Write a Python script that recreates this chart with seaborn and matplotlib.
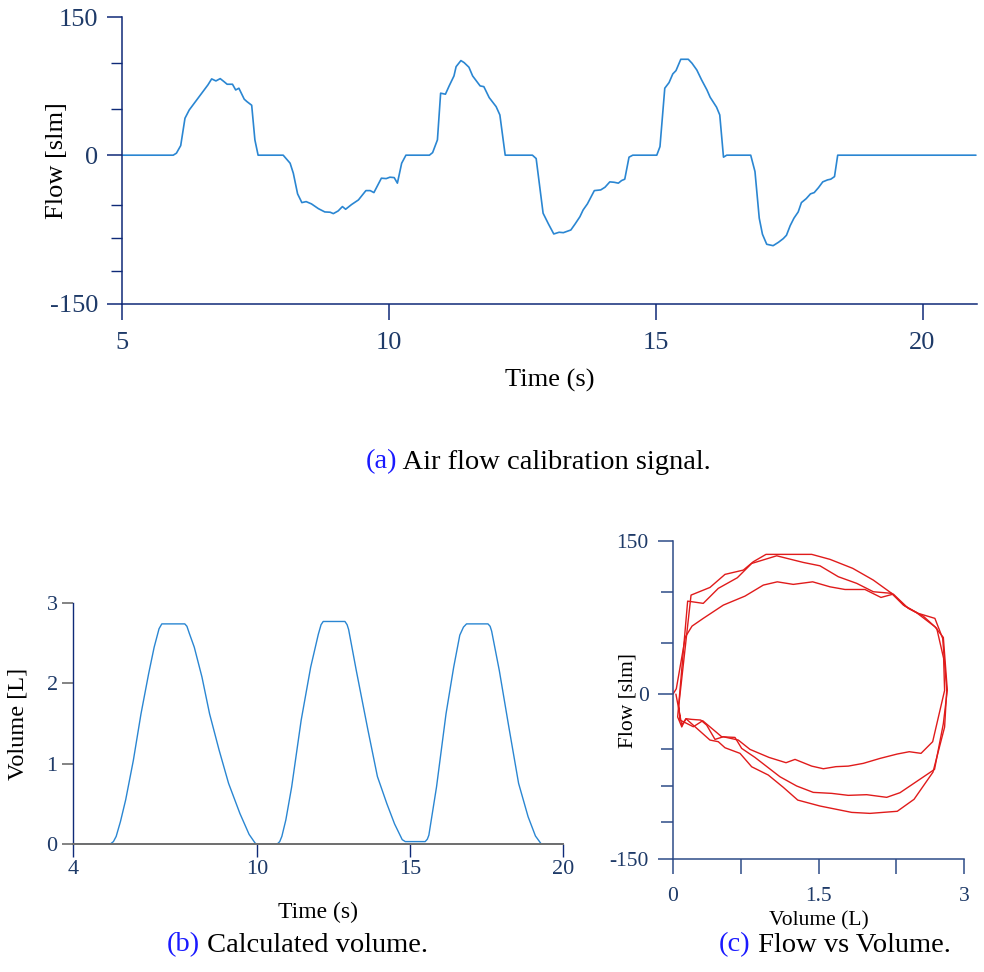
import numpy as np
import pandas as pd
import matplotlib
matplotlib.use("Agg")
import matplotlib.pyplot as plt
import seaborn as sns

# ---------------- (a) air-flow calibration signal ----------------
flow_time = [5.00, 5.96, 6.02, 6.10, 6.18, 6.26, 6.40, 6.54, 6.61, 6.68,
             6.76, 6.84, 6.91, 6.97, 7.07, 7.13, 7.19, 7.29, 7.34, 7.43,
             7.49, 7.55, 8.02, 8.15, 8.21, 8.29, 8.37, 8.45, 8.55, 8.68,
             8.80, 8.90, 8.96, 9.05, 9.13, 9.19, 9.30, 9.43, 9.57, 9.65,
             9.72, 9.86, 9.95, 10.02, 10.10, 10.16, 10.24, 10.32, 10.76, 10.82,
             10.91, 10.97, 11.06, 11.13, 11.22, 11.26, 11.35, 11.41, 11.50, 11.57,
             11.71, 11.78, 11.88, 12.01, 12.08, 12.18, 12.69, 12.76, 12.89, 12.99,
             13.09, 13.19, 13.27, 13.41, 13.49, 13.58, 13.64, 13.72, 13.85, 13.97,
             14.05, 14.14, 14.22, 14.30, 14.36, 14.42, 14.50, 14.57, 15.02, 15.08,
             15.17, 15.25, 15.32, 15.38, 15.47, 15.61, 15.68, 15.77, 15.86, 15.96,
             16.02, 16.14, 16.20, 16.27, 16.33, 16.78, 16.86, 16.94, 17.00, 17.08,
             17.20, 17.30, 17.39, 17.45, 17.52, 17.59, 17.67, 17.73, 17.82, 17.90,
             17.97, 18.05, 18.13, 18.22, 18.28, 18.35, 18.41, 21.00]
flow_slm = [0, 0, 2.2, 10.4, 40.1, 49.1, 60.0, 70.8, 76.3, 82.8,
            80.6, 83.1, 79.9, 77.0, 77.0, 70.8, 72.7, 60.8, 58.2, 54.2,
            16.6, 0, 0, -8.1, -18.2, -39.0, -47.8, -46.8, -49.1, -53.9,
            -57.2, -57.5, -58.9, -56.2, -51.8, -54.5, -49.8, -45.1, -35.7, -35.7,
            -37.7, -23.2, -23.6, -22.2, -22.6, -28.2, -8.1, 0, 0, 2.8,
            16.6, 67.3, 66.2, 75.2, 86.0, 96.1, 102.7, 100.5, 95.5, 86.0,
            75.2, 74.4, 62.5, 52.7, 43.7, 0, 0, -3.4, -58.5, -69.3,
            -79.4, -77.7, -78.1, -75.4, -69.3, -62.0, -55.2, -49.1, -35.7, -35.0,
            -32.3, -26.9, -27.3, -28.2, -25.6, -24.2, -2.0, 0, 0, 9.3,
            72.7, 78.8, 88.2, 91.8, 104.1, 104.1, 99.8, 92.5, 81.7, 70.8,
            62.9, 52.1, 43.7, -2.0, 0, 0, -16.5, -63.5, -79.7, -89.8,
            -91.2, -87.8, -84.1, -80.7, -71.0, -63.5, -57.2, -47.8, -43.8, -39.0,
            -37.7, -32.7, -26.9, -24.9, -24.2, -21.6, 0, 0]

# ---------------- (b) calculated volume ----------------
vol_time = [4.00, 5.22, 5.32, 5.41, 5.55, 5.72, 5.97, 6.22, 6.47, 6.65,
            6.81, 6.90, 7.65, 7.72, 7.80, 7.96, 8.21, 8.46, 8.77, 9.08,
            9.45, 9.75, 9.95, 10.00, 10.67, 10.75, 10.82, 10.95, 11.14, 11.45,
            11.76, 12.01, 12.10, 12.17, 12.88, 12.95, 13.00, 13.25, 13.63, 13.94,
            14.25, 14.50, 14.75, 14.85, 15.50, 15.57, 15.62, 15.87, 16.18, 16.43,
            16.63, 16.75, 16.85, 17.55, 17.62, 17.67, 17.92, 18.23, 18.55, 18.86,
            19.10, 19.29, 20.00]
vol_litres = [0, 0, 0.03, 0.095, 0.28, 0.55, 1.04, 1.62, 2.12, 2.45,
              2.68, 2.74, 2.74, 2.71, 2.62, 2.45, 2.08, 1.62, 1.17, 0.755,
              0.38, 0.12, 0.01, 0, 0, 0.03, 0.095, 0.30, 0.71, 1.54,
              2.20, 2.61, 2.73, 2.77, 2.77, 2.73, 2.67, 2.16, 1.42, 0.84,
              0.50, 0.25, 0.054, 0.03, 0.03, 0.06, 0.11, 0.71, 1.62, 2.20,
              2.60, 2.70, 2.74, 2.74, 2.71, 2.65, 2.16, 1.46, 0.755, 0.34,
              0.10, 0, 0]

# ---------------- (c) flow-volume loops, one per breath ----------------
loop1_volume = [0.00, 0.034, 0.127, 0.196, 0.312, 0.519, 0.742, 0.931, 1.075, 1.240,
                1.440, 1.619, 1.773, 1.979, 2.144, 2.271, 2.426, 2.580, 2.719, 2.790,
                2.800, 2.677, 2.557, 2.436, 2.312, 2.134, 1.962, 1.807, 1.680, 1.550,
                1.430, 1.258, 1.165, 0.990, 0.794, 0.673, 0.519, 0.433, 0.347, 0.286,
                0.193, 0.134, 0.090]
loop1_flow = [0, 5.2, 55.9, 66.6, 74.2, 87.2, 96.0, 106.8, 110.0, 107.5,
              110.0, 105.1, 102.5, 102.5, 94.7, 98.0, 84.0, 76.4, 64.4, 35.0,
              3.6, -43.3, -53.9, -52.4, -54.5, -58.5, -63.0, -65.5, -66.0, -67.9,
              -65.5, -59.4, -62.4, -57.6, -50.3, -41.8, -38.8, -41.2, -28.2, -23.6,
              -23.0, -22.4, -29.7]
loop2_volume = [0.090, 0.048, 0.151, 0.312, 0.467, 0.663, 0.811, 1.069, 1.343, 1.515,
                1.704, 1.894, 2.065, 2.255, 2.375, 2.512, 2.700, 2.787, 2.828, 2.787,
                2.696, 2.340, 2.203, 1.997, 1.807, 1.636, 1.446, 1.275, 1.103, 0.845,
                0.708, 0.639, 0.502, 0.306, 0.210, 0.072]
loop2_flow = [-29.7, -20.8, 91.1, 88.9, 103.6, 114.0, 128.0, 135.5, 129.0, 125.7,
              115.0, 108.5, 100.3, 98.7, 87.2, 79.7, 66.0, 55.5, 3.9, -26.9,
              -68.5, -89.7, -93.9, -91.5, -92.1, -90.3, -89.4, -83.6, -75.2, -57.6,
              -49.4, -39.4, -38.8, -24.2, -29.7, -23.6]
loop3_volume = [0.072, 0.060, 0.186, 0.381, 0.536, 0.725, 0.828, 0.959, 1.430, 1.619,
                1.853, 2.065, 2.255, 2.392, 2.529, 2.700, 2.780, 2.822, 2.800, 2.680,
                2.485, 2.312, 2.031, 1.842, 1.515, 1.286, 1.137, 0.982, 0.811, 0.691,
                0.536, 0.467, 0.381, 0.227, 0.134, 0.090, 0.030]
loop3_flow = [-23.6, -10.0, 97.0, 104.5, 117.3, 121.5, 129.7, 136.9, 136.9, 132.0,
              123.2, 111.7, 98.7, 86.2, 79.1, 74.2, 54.6, 3.9, -30.0, -71.0,
              -95.7, -106.6, -108.5, -107.6, -101.8, -96.4, -84.8, -73.6, -66.1, -53.9,
              -48.8, -43.3, -41.8, -29.7, -22.4, -28.0, 0.0]

flow_ticks = [-150, 0, 150]
flow_minor_ticks = [100, 50, -50, -83.33, -116.67]
vol_ticks = [0, 1, 2, 3]
time_ticks_a = [5, 10, 15, 20]
time_ticks_b = [4, 10, 15, 20]
volume_ticks_c = [0, 1.5, 3]
volume_minor_ticks_c = [0.7, 2.3]

captions = [("(a)", " Air flow calibration signal."),
            ("(b)", " Calculated volume."),
            ("(c)", " Flow vs Volume.")]

# ---------------- styling ----------------
sns.set_style("ticks")
plt.rcParams["font.family"] = ["Liberation Serif", "DejaVu Serif"]

NAVY = "#0f2a78"
TICK_TXT = "#1e3a68"
SLATE = "#2d4b88"
GREY = "#6e6e6e"
LINE_BLUE = "#2a86d2"
LOOP_RED = "#e01b1b"
CAP_BLUE = "#1a1aff"

W, H = 984, 972
fig = plt.figure(figsize=(W / 100, H / 100), dpi=100)


def px_axes(left, top, right, bottom):
    return fig.add_axes([left / W, 1 - bottom / H, (right - left) / W, (bottom - top) / H])


# flow axes: negative side is stretched slightly relative to the positive side
K_NEG = 1.077


def _fwd(v):
    v = np.asarray(v, dtype=float)
    return np.where(v < 0, v * K_NEG, v)


def _inv(v):
    v = np.asarray(v, dtype=float)
    return np.where(v < 0, v / K_NEG, v)


# ---------- (a) ----------
ax_a = px_axes(122, 17, 977, 304)
sns.lineplot(x=flow_time, y=flow_slm, ax=ax_a, color=LINE_BLUE, lw=1.2,
             estimator=None, sort=False)
ax_a.set_yscale("function", functions=(_fwd, _inv))
ax_a.set_xlim(5, 21.02)
ax_a.set_ylim(-150, 150)
ax_a.set_xticks(time_ticks_a)
ax_a.set_yticks(flow_ticks)
ax_a.set_yticks(flow_minor_ticks, minor=True)
ax_a.set_yticklabels([str(t) for t in flow_ticks])
for s in ("top", "right"):
    ax_a.spines[s].set_visible(False)
for s in ("left", "bottom"):
    ax_a.spines[s].set_color(NAVY)
    ax_a.spines[s].set_linewidth(1.1)
ax_a.tick_params(axis="y", which="major", length=10.8, width=1.1, color=NAVY,
                 labelcolor=TICK_TXT, labelsize=19, pad=6.5)
ax_a.tick_params(axis="y", which="minor", length=8, width=1.0, color=NAVY)
ax_a.tick_params(axis="x", which="major", length=11.5, width=1.1, color=NAVY,
                 labelcolor=TICK_TXT, labelsize=19, pad=9)
ax_a.set_xlabel("Time (s)", fontsize=19, color="black")
ax_a.set_ylabel("Flow [slm]", fontsize=19, color="black")
ax_a.xaxis.set_label_coords(0.5, -0.265)
ax_a.xaxis.label.set_va("center")
ax_a.yaxis.set_label_coords(-0.076, 0.5)
ax_a.yaxis.label.set_va("center")

# ---------- (b) ----------
ax_b = px_axes(73, 603, 563, 844)
sns.lineplot(x=vol_time, y=vol_litres, ax=ax_b, color=LINE_BLUE, lw=1.0,
             estimator=None, sort=False)
ax_b.set_xlim(4, 20)
ax_b.set_ylim(0, 3)
ax_b.set_xticks(time_ticks_b)
ax_b.set_yticks(vol_ticks)
for s in ("top", "right"):
    ax_b.spines[s].set_visible(False)
ax_b.spines["left"].set_color(NAVY)
ax_b.spines["left"].set_linewidth(1.0)
ax_b.spines["bottom"].set_color(GREY)
ax_b.spines["bottom"].set_linewidth(1.4)
ax_b.tick_params(axis="y", length=8, width=1.2, color=GREY, labelcolor=TICK_TXT,
                 labelsize=16, pad=3)
ax_b.tick_params(axis="x", length=9.4, width=1.0, color=NAVY, labelcolor=TICK_TXT,
                 labelsize=16, pad=2)
ax_b.set_xlabel("Time (s)", fontsize=17, color="black")
ax_b.set_ylabel("Volume [L]", fontsize=17.5, color="black")
ax_b.xaxis.set_label_coords(0.5, -0.286)
ax_b.xaxis.label.set_va("center")
ax_b.yaxis.set_label_coords(-0.113, 0.5)
ax_b.yaxis.label.set_va("center")

# ---------- (c) ----------
ax_c = px_axes(673, 541, 964, 859)
loops = pd.concat([
    pd.DataFrame({"volume": loop1_volume, "flow": loop1_flow, "breath": 1}),
    pd.DataFrame({"volume": loop2_volume, "flow": loop2_flow, "breath": 2}),
    pd.DataFrame({"volume": loop3_volume, "flow": loop3_flow, "breath": 3}),
], ignore_index=True)
sns.lineplot(data=loops, x="volume", y="flow", units="breath", estimator=None,
             sort=False, color=LOOP_RED, lw=1.0, ax=ax_c)
ax_c.set_yscale("function", functions=(_fwd, _inv))
ax_c.set_xlim(0, 3)
ax_c.set_ylim(-150, 150)
ax_c.set_xticks(volume_ticks_c)
ax_c.set_xticklabels(["0", "1.5", "3"])
ax_c.set_xticks(volume_minor_ticks_c, minor=True)
ax_c.set_yticks(flow_ticks)
ax_c.set_yticklabels([str(t) for t in flow_ticks])
ax_c.set_yticks(flow_minor_ticks, minor=True)
for s in ("top", "right"):
    ax_c.spines[s].set_visible(False)
for s in ("left", "bottom"):
    ax_c.spines[s].set_color(SLATE)
    ax_c.spines[s].set_linewidth(1.1)
ax_c.tick_params(axis="both", which="major", length=11, width=1.1, color=SLATE,
                 labelcolor=TICK_TXT, labelsize=15.5)
ax_c.tick_params(axis="y", which="major", pad=6.5)
ax_c.tick_params(axis="x", which="major", pad=9.5)
ax_c.tick_params(axis="y", which="minor", length=8.5, width=1.1, color=SLATE)
ax_c.tick_params(axis="x", which="minor", length=11, width=1.1, color=SLATE)
ax_c.set_xlabel("Volume (L)", fontsize=15.5, color="black")
ax_c.set_ylabel("Flow [slm]", fontsize=15.5, color="black")
ax_c.xaxis.set_label_coords(0.5, -0.195)
ax_c.xaxis.label.set_va("center")
ax_c.yaxis.set_label_coords(-0.155, 0.5)
ax_c.yaxis.label.set_va("center")

# ---------- sub-figure captions ----------
caption_pos = [(538, 462), (297, 945), (835, 945)]
fig.canvas.draw()
renderer = fig.canvas.get_renderer()
for (tag, text), (cx, cy) in zip(captions, caption_pos):
    t1 = fig.text(0, 1 - cy / H, tag, color=CAP_BLUE, fontsize=20.5, va="center", ha="left")
    t2 = fig.text(0, 1 - cy / H, text, color="black", fontsize=20.5, va="center", ha="left")
    w1 = t1.get_window_extent(renderer).width
    w2 = t2.get_window_extent(renderer).width
    x0 = cx - (w1 + w2) / 2
    t1.set_x(x0 / W)
    t2.set_x((x0 + w1) / W)

fig.savefig("out.png", dpi=100, facecolor="white")
